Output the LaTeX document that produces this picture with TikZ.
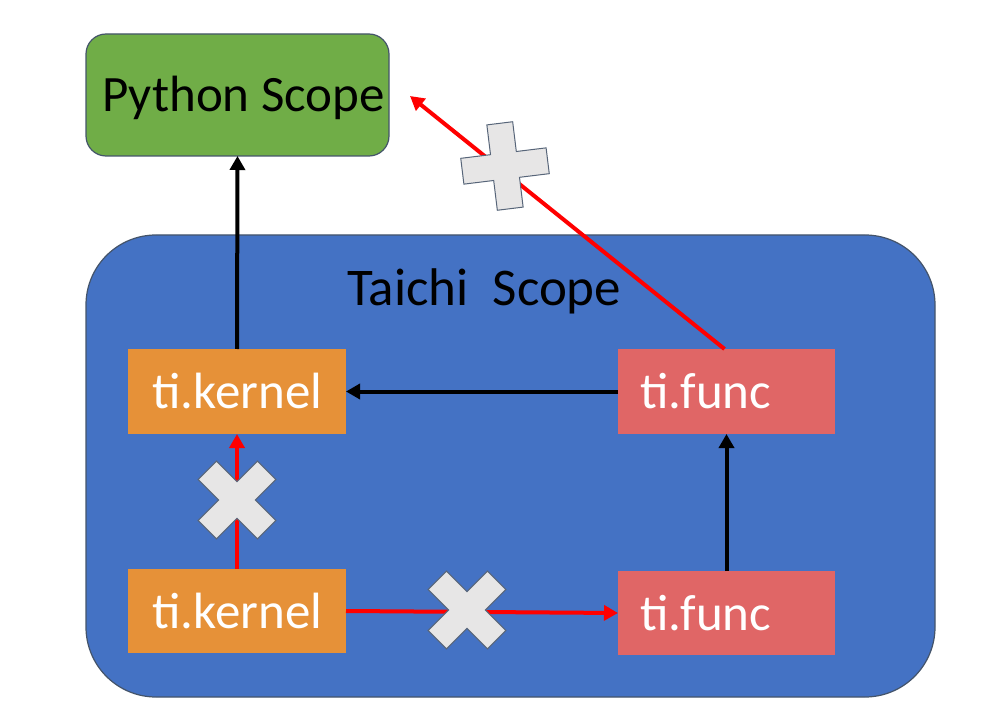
\documentclass[tikz,border=0pt]{standalone}
\usepackage{fontspec}
\setmainfont{Carlito}
\usetikzlibrary{arrows.meta}
\definecolor{pygreen}{HTML}{70AD47}
\definecolor{tblue}{HTML}{4472C4}
\definecolor{korange}{HTML}{E69138}
\definecolor{fred}{HTML}{E06666}
\definecolor{edgegray}{HTML}{44546A}
\definecolor{crossfill}{HTML}{E7E6E6}
\definecolor{arrred}{HTML}{FF0000}
\tikzset{
  box/.style={inner sep=0pt, outer sep=0pt, draw=none},
  boxtext/.style={font=\fontsize{51}{55}\selectfont, text=white, inner sep=0pt, anchor=base west},
  blackarrow/.style={draw=black, line width=4pt, -{Triangle[length=14pt,width=15pt]}},
  redarrow/.style={draw=arrred, line width=4pt, -{Triangle[length=14pt,width=15pt]}},
  crossshape/.style={fill=crossfill, draw=edgegray!90, line width=1pt, line join=miter}
}
\newcommand{\plusshape}[4]{% x y rotation halflength
  \begin{scope}[shift={(#1,#2)}, rotate=#3]
    \path[crossshape] (-#4,-13) -- (-13,-13) -- (-13,-#4) -- (13,-#4) -- (13,-13) -- (#4,-13) -- (#4,13) -- (13,13) -- (13,#4) -- (-13,#4) -- (-13,13) -- (-#4,13) -- cycle;
  \end{scope}}
\begin{document}
\begin{tikzpicture}[x=1pt,y=-1pt]
\useasboundingbox (0,0) rectangle (989,722);
% Taichi scope
\draw[fill=tblue, draw=edgegray, line width=1.2pt, rounded corners=70pt] (86,235) rectangle (935,697);
\node[font=\fontsize{53}{57}\selectfont, anchor=base west, inner sep=0pt] (ts) at (347,306) {Taichi\ \ Scope};
% Python scope
\draw[fill=pygreen, draw=edgegray, line width=1.2pt, rounded corners=20pt] (86,34) rectangle (389,156);
\node[box, minimum width=303pt, minimum height=122pt] (py) at (237.5,95) {};
\node[font=\fontsize{51}{55}\selectfont, anchor=base west, inner sep=0pt] (pyt) at (102,112) {Python Scope};
% boxes
\node[box, fill=korange, minimum width=218pt, minimum height=85pt] (k1) at (237,391.5) {};
\node[boxtext] at (152,408) {ti.kernel};
\node[box, fill=fred, minimum width=217pt, minimum height=85pt] (f1) at (726.5,391.5) {};
\node[boxtext] at (640,408) {ti.func};
\node[box, fill=korange, minimum width=218pt, minimum height=84pt] (k2) at (237,611) {};
\node[boxtext] at (152,628) {ti.kernel};
\node[box, fill=fred, minimum width=217pt, minimum height=84pt] (f2) at (726.5,613) {};
\node[boxtext] at (640,630) {ti.func};
\coordinate (pyend) at (410,96);
% black arrows
\draw[blackarrow] (k1.north) -- (py.south);
\draw[blackarrow] (f1.west) -- (k1.east);
\draw[blackarrow] (f2.north) -- (f1.south);
% red arrows
\draw[redarrow] (k2.north) -- (k1.south);
\draw[redarrow] (k2.east) -- (f2.west);
\draw[redarrow] ([xshift=-2pt]f1.north) -- (pyend);
% crosses
\plusshape{237}{500}{45}{42}
\plusshape{467}{610}{45}{42}
\plusshape{505}{166}{7}{43}
\end{tikzpicture}
\end{document}
